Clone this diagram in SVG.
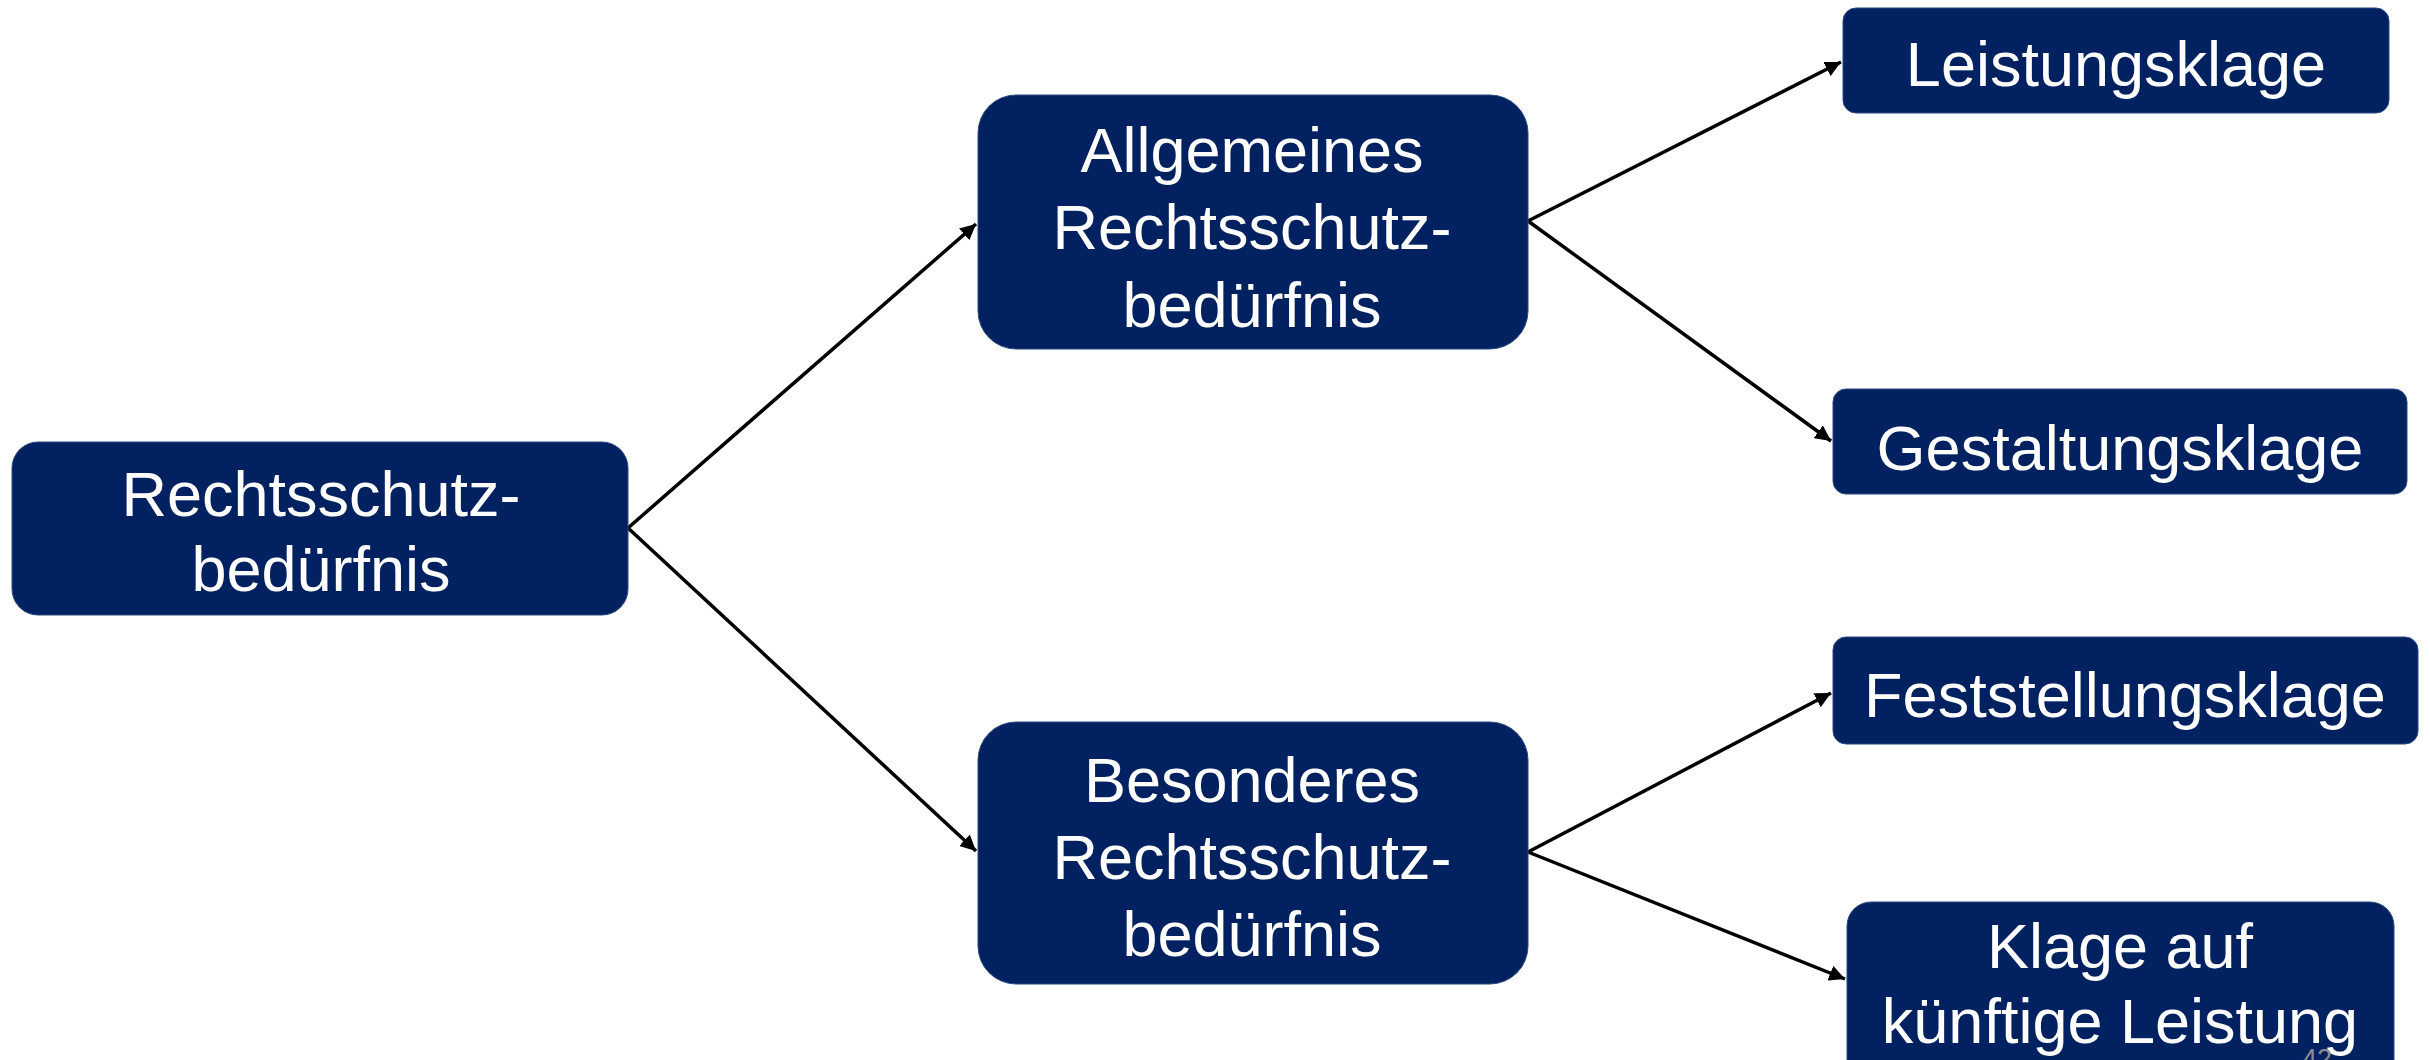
<svg xmlns="http://www.w3.org/2000/svg" width="2430" height="1060" viewBox="0 0 2430 1060">
<defs>
<style>
.box{fill:#022160;stroke:#2a4a80;stroke-width:1}
.t{font-family:"Liberation Sans",Arial,sans-serif;font-size:63px;fill:#ffffff;text-anchor:middle}
.c{stroke:#000;stroke-width:3.5;fill:none;marker-end:url(#ah)}
</style>
<marker id="ah" viewBox="0 0 10 10" refX="10" refY="5" markerWidth="4.5" markerHeight="4.5" orient="auto" markerUnits="strokeWidth">
<path d="M0,0 L10,5 L0,10 z" fill="#000"/>
</marker>
</defs>
<rect width="2430" height="1060" fill="#ffffff"/>
<g id="connectors">
<line class="c" x1="628" y1="528" x2="976" y2="224"/>
<line class="c" x1="628" y1="528" x2="976" y2="851"/>
<line class="c" x1="1528" y1="221" x2="1841" y2="62"/>
<line class="c" x1="1528" y1="221" x2="1831" y2="441"/>
<line class="c" x1="1528" y1="852" x2="1831" y2="693"/>
<line class="c" x1="1528" y1="852" x2="1845" y2="979"/>
</g>
<g id="root">
<rect class="box" x="12" y="442" width="616" height="173" rx="26"/>
<text class="t" x="321" y="516">Rechtsschutz-</text>
<text class="t" x="321" y="591">bedürfnis</text>
</g>
<g id="allgemeines">
<rect class="box" x="978" y="95" width="550" height="254" rx="38"/>
<text class="t" x="1252" y="172">Allgemeines</text>
<text class="t" x="1252" y="249">Rechtsschutz-</text>
<text class="t" x="1252" y="327">bedürfnis</text>
</g>
<g id="besonderes">
<rect class="box" x="978" y="722" width="550" height="262" rx="38"/>
<text class="t" x="1252" y="802">Besonderes</text>
<text class="t" x="1252" y="879">Rechtsschutz-</text>
<text class="t" x="1252" y="956">bedürfnis</text>
</g>
<g id="leistungsklage">
<rect class="box" x="1843" y="8" width="546" height="105" rx="13"/>
<text class="t" x="2116" y="86">Leistungsklage</text>
</g>
<g id="gestaltungsklage">
<rect class="box" x="1833" y="389" width="574" height="105" rx="13"/>
<text class="t" x="2120" y="470">Gestaltungsklage</text>
</g>
<g id="feststellungsklage">
<rect class="box" x="1833" y="637" width="585" height="107" rx="13"/>
<text class="t" x="2125" y="717">Feststellungsklage</text>
</g>
<g id="klage-kuenftig">
<rect class="box" x="1847" y="902" width="547" height="190" rx="24"/>
<text class="t" x="2120" y="968">Klage auf</text>
<text class="t" x="2120" y="1043">künftige Leistung</text>
</g>
<text x="2317" y="1068" font-family="Liberation Sans,Arial,sans-serif" font-size="27" fill="#8c8c8c" text-anchor="middle">42</text>
</svg>
